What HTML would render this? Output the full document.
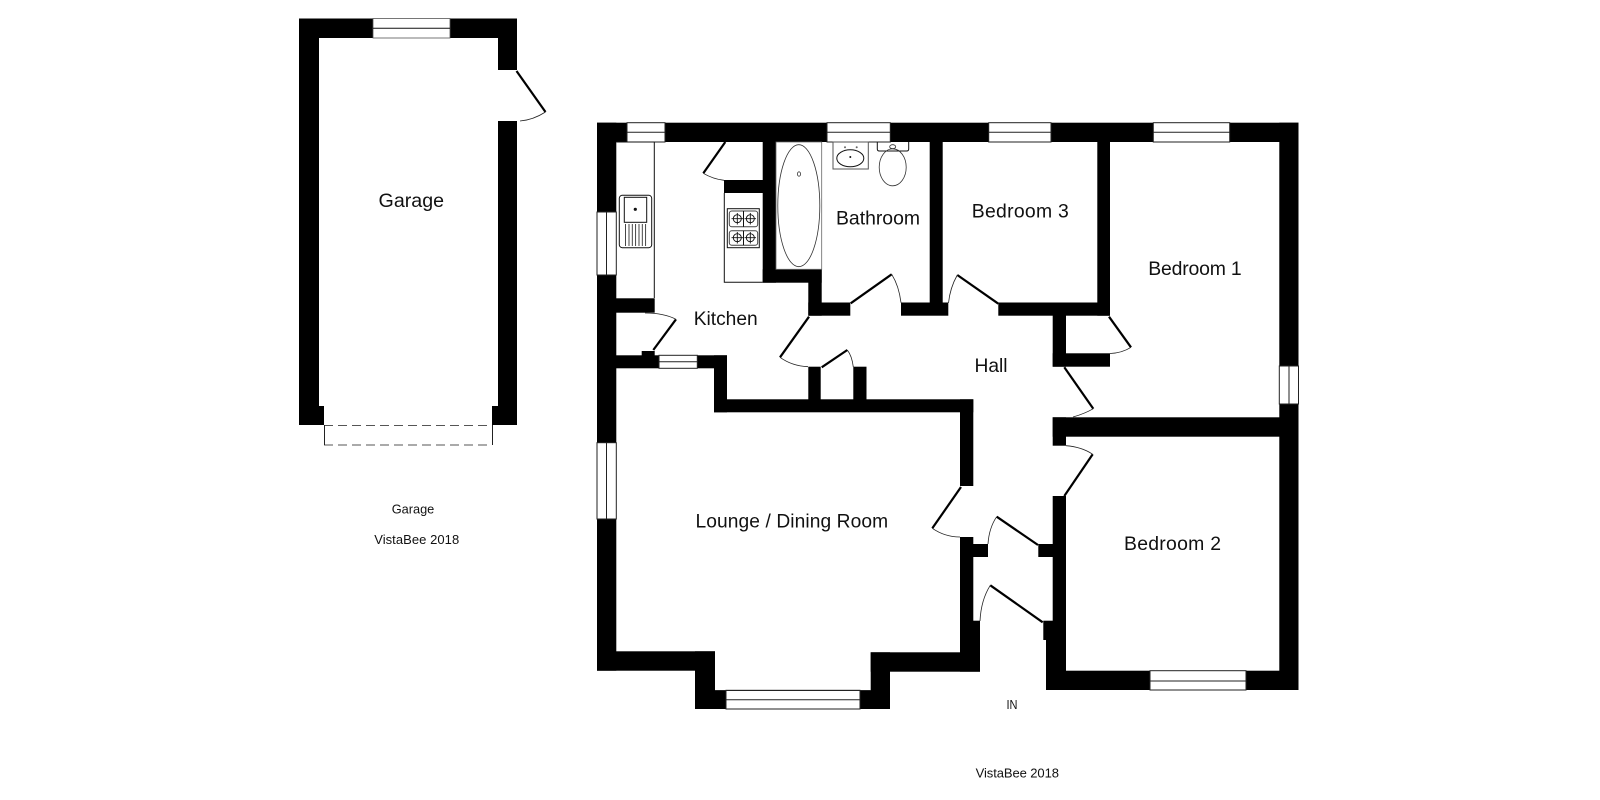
<!DOCTYPE html>
<html>
<head>
<meta charset="utf-8">
<style>
html,body{margin:0;padding:0;background:#fff}
svg{display:block}
text{font-family:"Liberation Sans",Arial,sans-serif;fill:#111}
.f{fill:none;stroke:#111;stroke-width:1}
.g{fill:none;stroke:#333;stroke-width:.8}
.l{stroke:#000;stroke-width:2.2;fill:none}
.a{fill:none;stroke:#222;stroke-width:.8}
.w{stroke:#222;stroke-width:1;fill:#fff}
</style>
</head>
<body>
<svg width="1600" height="800" viewBox="0 0 1600 800" xmlns="http://www.w3.org/2000/svg">
<rect width="1600" height="800" fill="#fff"/>

<!-- Garage walls -->
<g fill="#000">
<rect x="299" y="18.5" width="218" height="19.5"/>
<rect x="299" y="18.5" width="20" height="406.5"/>
<rect x="319" y="406" width="5" height="19"/>
<rect x="498" y="18.5" width="19" height="51.5"/>
<rect x="498" y="121" width="19" height="304"/>
<rect x="492" y="406" width="6" height="19"/>
</g>
<rect x="373" y="18.5" width="77" height="19.5" fill="#fff" stroke="#555" stroke-width=".8"/>
<line x1="373" y1="28.3" x2="450" y2="28.3" stroke="#111"/>
<path d="M516.5 71L545.5 112" class="l"/>
<path d="M545.5 112Q533 120 520 121" class="a"/>
<path d="M324 425.5H492M324 445H492" fill="none" stroke="#555" stroke-width="1" stroke-dasharray="9 5"/>
<path d="M324.5 425V445M492.5 425V445" stroke="#222" stroke-width="1"/>

<!-- Main walls -->
<g fill="#000">
<!-- outer -->
<rect x="597" y="122.7" width="701.5" height="19.3"/>
<rect x="597" y="122.7" width="19.3" height="548"/>
<rect x="1279.3" y="122.7" width="19.2" height="567.3"/>
<rect x="597" y="651.3" width="118" height="19.4"/>
<rect x="695" y="651.3" width="20" height="57.7"/>
<rect x="695" y="690.3" width="31" height="18.7"/>
<rect x="860" y="690.3" width="30" height="18.7"/>
<rect x="870.7" y="652.3" width="19.3" height="56.7"/>
<rect x="870.7" y="652.3" width="109.3" height="19.4"/>
<rect x="960" y="620.7" width="20" height="51"/>
<rect x="1046" y="640" width="20" height="50"/>
<rect x="1043.3" y="620.7" width="22.7" height="19.3"/>
<rect x="1046" y="670.7" width="252.5" height="19.3"/>
<!-- kitchen -->
<rect x="616" y="298.3" width="38.7" height="14.4"/>
<rect x="616" y="355.3" width="111" height="13"/>
<rect x="641.7" y="351" width="13" height="5"/>
<rect x="714" y="355.3" width="13" height="57"/>
<rect x="714" y="399.3" width="259.3" height="13"/>
<rect x="808.3" y="366.7" width="12.4" height="33"/>
<rect x="853.3" y="366.7" width="13.2" height="33"/>
<rect x="724" y="180" width="39" height="13"/>
<rect x="762.7" y="142" width="13.3" height="140.7"/>
<rect x="762.7" y="269.3" width="59" height="13.4"/>
<rect x="808.3" y="269.3" width="13.4" height="46.4"/>
<rect x="808.3" y="302.5" width="42" height="13.2"/>
<rect x="901" y="302.5" width="47.3" height="13.2"/>
<rect x="929.7" y="142" width="13" height="161"/>
<rect x="998.3" y="302.5" width="111.7" height="13.2"/>
<rect x="1097.3" y="142" width="12.7" height="173.7"/>
<!-- bed 1 cupboard and hall -->
<rect x="1052.7" y="315" width="13.3" height="51.7"/>
<rect x="1052.7" y="353.3" width="57.3" height="13.4"/>
<rect x="1052.7" y="417.3" width="227" height="19.4"/>
<rect x="1052.7" y="417.3" width="13.3" height="28.4"/>
<rect x="1052.7" y="496" width="13.3" height="175"/>
<!-- lounge/hall -->
<rect x="960" y="399.3" width="13.3" height="86.7"/>
<rect x="960" y="537" width="13.3" height="115"/>
<rect x="973" y="544" width="15" height="13"/>
<rect x="1038.3" y="544" width="14.7" height="13"/>
</g>

<!-- Windows -->
<g>
<rect class="w" x="627" y="122.7" width="38" height="19.3"/>
<rect class="w" x="827" y="122.7" width="63.3" height="19.3"/>
<rect class="w" x="988.7" y="122.7" width="62.3" height="19.3"/>
<rect class="w" x="1153.3" y="122.7" width="76.4" height="19.3"/>
<rect class="w" x="597" y="212" width="19.3" height="63"/>
<rect class="w" x="597" y="442.7" width="19.3" height="76.3"/>
<rect class="w" x="1279.3" y="366" width="19.2" height="38"/>
<rect class="w" x="659" y="355.3" width="38.3" height="13"/>
<rect class="w" x="726" y="690.3" width="134" height="18.7"/>
<rect class="w" x="1150" y="670.7" width="96" height="19.3"/>
<path d="M627 132.3H665M827 132.3H890.3M988.7 132.3H1051M1153.3 132.3H1229.7M726 699.7H860M659 361.8H697.3M1150 681H1246" stroke="#222" stroke-width="1"/>
<path d="M606.5 212V275M606.5 442.7V519M1289 366V404" stroke="#222" stroke-width="1"/>
</g>
<line x1="715" y1="690.5" x2="870.7" y2="690.5" stroke="#222" stroke-width="1"/>

<!-- Doors -->
<path d="M725.3 142L703.3 173.3" class="l"/>
<path d="M703.3 173.3Q713 179 724 180.3" class="a"/>
<path d="M676 319.3L653.3 350" class="l"/>
<path d="M676 319.3Q664 313 645 313" class="a"/>
<path d="M809 316.7L780 357.3" class="l"/>
<path d="M780 357.3Q792 366 808 366.7" class="a"/>
<path d="M821.7 367.3L847.3 350" class="l"/>
<path d="M847.3 350Q852 356 853.3 367" class="a"/>
<path d="M850.7 303.3L891.7 274.3" class="l"/>
<path d="M891.7 274.3Q899 286 901 302.7" class="a"/>
<path d="M957.3 275L998.3 303.7" class="l"/>
<path d="M957.3 275Q950 288 948.5 303" class="a"/>
<path d="M1109 316.7L1131 347.3" class="l"/>
<path d="M1131 347.3Q1122 353 1110 353.5" class="a"/>
<path d="M1064.3 367.3L1093.3 408.7" class="l"/>
<path d="M1093.3 408.7Q1084 414 1073 417" class="a"/>
<path d="M1092.7 454.3L1064.3 496" class="l"/>
<path d="M1092.7 454.3Q1082 447 1066 445.7" class="a"/>
<path d="M961 487L932.3 528.3" class="l"/>
<path d="M932.3 528.3Q945 537 960 537" class="a"/>
<path d="M1038 545L996.7 516.7" class="l"/>
<path d="M996.7 516.7Q989 528 988 544" class="a"/>
<path d="M1042.7 622.3L990.3 585.3" class="l"/>
<path d="M990.3 585.3Q981 600 980 621" class="a"/>

<!-- Kitchen counter, sink -->
<path d="M616.3 142H654.3V298" class="f"/>
<path d="M724.3 193V282.3H762.7" class="f"/>
<rect x="619.3" y="195.3" width="32.4" height="52.4" rx="3" class="f"/>
<rect x="624.3" y="197.3" width="22.4" height="25" class="f"/>
<circle cx="635.3" cy="209.3" r="1.6" fill="#111"/>
<path d="M625.5 224V246M629 224V246M632.3 224V246M635.6 224V246M639 224V246M642.3 224V246M645.6 224V246" stroke="#333" stroke-width=".9"/>

<!-- Hob -->
<rect x="727.3" y="208.7" width="32" height="39" fill="#fff" stroke="#111" stroke-width="1"/>
<rect x="729.3" y="211" width="28.4" height="15.7" rx="2.5" fill="none" stroke="#444" stroke-width="1"/>
<rect x="729.3" y="230.7" width="28.4" height="14.6" rx="2.5" fill="none" stroke="#444" stroke-width="1"/>
<path d="M743.5 211V226.7M743.5 230.7V245.3" stroke="#111" stroke-width="1"/>
<g fill="none" stroke="#111" stroke-width=".9">
<circle cx="737.3" cy="218.7" r="4"/>
<circle cx="750.3" cy="218.7" r="4"/>
<circle cx="737.3" cy="237.7" r="4"/>
<circle cx="750.3" cy="237.7" r="4"/>
<path d="M731.5 218.7H743M737.3 213V224.5M744.5 218.7H756M750.3 213V224.5M731.5 237.7H743M737.3 232V243.5M744.5 237.7H756M750.3 232V243.5"/>
</g>

<!-- Bath -->
<path d="M776 269.3V142H821.7V269.3Z" fill="#fff" stroke="#666" stroke-width=".8"/>
<ellipse cx="798.8" cy="205.7" rx="21" ry="61" class="g"/>
<ellipse cx="799" cy="174" rx="1.6" ry="2.2" class="g"/>

<!-- Basin -->
<rect x="833" y="142" width="35.3" height="27" fill="none" stroke="#555" stroke-width="1"/>
<ellipse cx="850.3" cy="158.3" rx="13.5" ry="8.5" class="f"/>
<circle cx="850.3" cy="157" r="1" fill="#111"/>
<circle cx="845" cy="147.3" r="1" fill="#666"/>
<circle cx="856.7" cy="147.3" r="1" fill="#666"/>

<!-- Toilet -->
<path d="M877.3 142V149Q877.3 151 879.3 151H906.7Q908.7 151 908.7 149V142" class="f"/>
<ellipse cx="892.7" cy="167.3" rx="13.5" ry="18.5" class="g"/>
<ellipse cx="892.7" cy="146.7" rx="3" ry="2" class="g"/>

<!-- Labels -->
<text x="411.3" y="207" font-size="19.5" text-anchor="middle" textLength="65.5" lengthAdjust="spacingAndGlyphs">Garage</text>
<text x="413" y="513.5" font-size="13" text-anchor="middle" textLength="42.6" lengthAdjust="spacingAndGlyphs">Garage</text>
<text x="416.7" y="544" font-size="13" text-anchor="middle" textLength="85" lengthAdjust="spacing">VistaBee 2018</text>
<text x="878" y="224.3" font-size="19.4" text-anchor="middle" textLength="84" lengthAdjust="spacingAndGlyphs">Bathroom</text>
<text x="1020.3" y="217.7" font-size="19.4" text-anchor="middle" textLength="97" lengthAdjust="spacing">Bedroom 3</text>
<text x="1195" y="275" font-size="19.4" text-anchor="middle" textLength="93.4" lengthAdjust="spacing">Bedroom 1</text>
<text x="1172.5" y="550" font-size="19.4" text-anchor="middle" textLength="97" lengthAdjust="spacing">Bedroom 2</text>
<text x="725.7" y="325" font-size="19.2" text-anchor="middle" textLength="64" lengthAdjust="spacingAndGlyphs">Kitchen</text>
<text x="991" y="372" font-size="19.2" text-anchor="middle">Hall</text>
<text x="791.8" y="527.7" font-size="19.2" text-anchor="middle" textLength="192.5" lengthAdjust="spacing">Lounge / Dining Room</text>
<text x="1012" y="709" font-size="13" text-anchor="middle" textLength="11" lengthAdjust="spacingAndGlyphs">IN</text>
<text x="1017.3" y="777.3" font-size="13" text-anchor="middle" textLength="83.3" lengthAdjust="spacing">VistaBee 2018</text>
</svg>
</body>
</html>
